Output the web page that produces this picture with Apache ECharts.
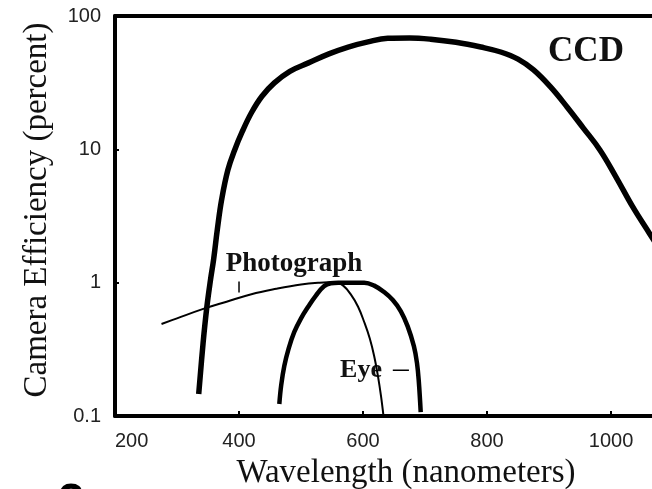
<!DOCTYPE html>
<html><head><meta charset="utf-8">
<script src="https://cdn.jsdelivr.net/npm/echarts@6/dist/echarts.min.js"></script>
<style>html,body{margin:0;padding:0;background:#fff}#c{width:652px;height:489px}</style>
</head><body><div id="c"></div>
<script>
// ---- data ----
const xTicks = [200, 400, 600, 800, 1000];
const yTicks = [0.1, 1, 10, 100];

const ccdWavelength = [335, 342, 348, 354, 359, 365, 372, 382, 393, 405, 420, 437, 457, 482, 512, 545, 576, 608, 640, 675, 709, 750, 790, 822, 850, 875, 902, 929, 955, 982, 1008, 1035, 1063, 1090];
const ccdEfficiency = [0.146, 0.35, 0.65, 1.05, 1.49, 2.5, 4.2, 7.0, 9.9, 13.5, 18.8, 25, 31.5, 38.5, 44.5, 52, 58.5, 64, 68, 68.4, 67, 63.5, 58.5, 53.7, 47.5, 39.4, 29.5, 20.8, 14.5, 9.9, 6.2, 3.7, 2.3, 1.45];

const photoWavelength = [275, 300, 340, 380, 420, 460, 500, 530, 555, 568, 580, 592, 602, 611, 618, 624, 629, 633];
const photoEfficiency = [0.49, 0.54, 0.63, 0.72, 0.82, 0.9, 0.97, 1.0, 1.01, 0.95, 0.82, 0.66, 0.505, 0.38, 0.281, 0.2, 0.141, 0.1];

const eyeWavelength = [465, 468, 473, 480, 489, 500, 512, 524, 537, 548, 560, 585, 602, 618, 634, 648, 661, 672, 682, 687, 690, 693];
const eyeEfficiency = [0.123, 0.17, 0.237, 0.32, 0.425, 0.54, 0.665, 0.8, 0.94, 0.99, 1.0, 1.0, 1.0, 0.95, 0.85, 0.74, 0.61, 0.47, 0.334, 0.25, 0.18, 0.107];

// annotation pointers
const photoPointerX = [400, 400];
const photoPointerY = [1.02, 0.845];
const eyePointerX = [648, 674];
const eyePointerY = [0.22, 0.22];

const zip = (xs, ys) => xs.map((x, i) => [x, ys[i]]);

const chart = echarts.init(document.getElementById('c'), null, {renderer: 'canvas'});
const serif = '"Liberation Serif", "Times New Roman", serif';
const sans = '"Liberation Sans", Arial, sans-serif';

chart.setOption({
  animation: false,
  backgroundColor: '#fff',
  grid: {left: 115, right: 0, top: 16, bottom: 73, containLabel: false},
  xAxis: [{
    type: 'value', min: 200, max: 1066, interval: 200,
    axisLine: {lineStyle: {color: '#000', width: 4}},
    axisTick: {inside: true, length: 5, lineStyle: {color: '#000', width: 2}, customValues: xTicks},
    axisLabel: {customValues: xTicks, margin: 15, fontFamily: sans, fontSize: 20, color: '#222', alignMinLabel: 'left',
      formatter: v => String(v)},
    splitLine: {show: false}
  }, {
    type: 'value', position: 'top', min: 200, max: 1066,
    axisLine: {show: true, lineStyle: {color: '#000', width: 4}},
    axisTick: {show: false}, axisLabel: {show: false}, splitLine: {show: false}
  }],
  yAxis: {
    type: 'log', logBase: 10, min: 0.1, max: 100,
    axisLine: {show: true, lineStyle: {color: '#000', width: 4}},
    axisTick: {show: true, inside: true, length: 4, lineStyle: {color: '#000', width: 2}},
    axisLabel: {margin: 14, fontFamily: sans, fontSize: 20, color: '#222',
      formatter: v => String(Number(v.toPrecision(3)))},
    splitLine: {show: false}, minorTick: {show: false}
  },
  series: [
    {type: 'line', name: 'CCD', data: zip(ccdWavelength, ccdEfficiency), showSymbol: false, smooth: 0.4,
      lineStyle: {color: '#000', width: 5.5}, clip: true},
    {type: 'line', name: 'Photograph', data: zip(photoWavelength, photoEfficiency), showSymbol: false, smooth: 0.4,
      lineStyle: {color: '#000', width: 2}},
    {type: 'line', name: 'Eye', data: zip(eyeWavelength, eyeEfficiency), showSymbol: false, smooth: 0.4,
      lineStyle: {color: '#000', width: 4.5}},
    {type: 'line', data: zip(photoPointerX, photoPointerY), showSymbol: false, lineStyle: {color: '#000', width: 1.5}},
    {type: 'line', data: zip(eyePointerX, eyePointerY), showSymbol: false, lineStyle: {color: '#000', width: 1.5}}
  ],
  graphic: [
    {type: 'text', x: 37, y: 210, rotation: Math.PI / 2,
      style: {text: 'Camera Efficiency (percent)', font: '33px ' + serif, fill: '#111', textAlign: 'center', textVerticalAlign: 'middle'}},
    {type: 'text', x: 406, y: 473,
      style: {text: 'Wavelength (nanometers)', font: '33px ' + serif, fill: '#111', textAlign: 'center', textVerticalAlign: 'middle'}},
    {type: 'text', x: 294, y: 264,
      style: {text: 'Photograph', font: 'bold 27px ' + serif, fill: '#111', textAlign: 'center', textVerticalAlign: 'middle'}},
    {type: 'text', x: 361, y: 370,
      style: {text: 'Eye', font: 'bold 26px ' + serif, fill: '#111', textAlign: 'center', textVerticalAlign: 'middle'}},
    {type: 'text', x: 586, y: 52,
      style: {text: 'CCD', font: 'bold 35px ' + serif, fill: '#111', textAlign: 'center', textVerticalAlign: 'middle'}},
    {type: 'text', x: 71, y: 480,
      style: {text: '2', font: 'bold 48px ' + sans, fill: '#000', textAlign: 'center', textVerticalAlign: 'top'}}
  ]
});
</script>
</body></html>
